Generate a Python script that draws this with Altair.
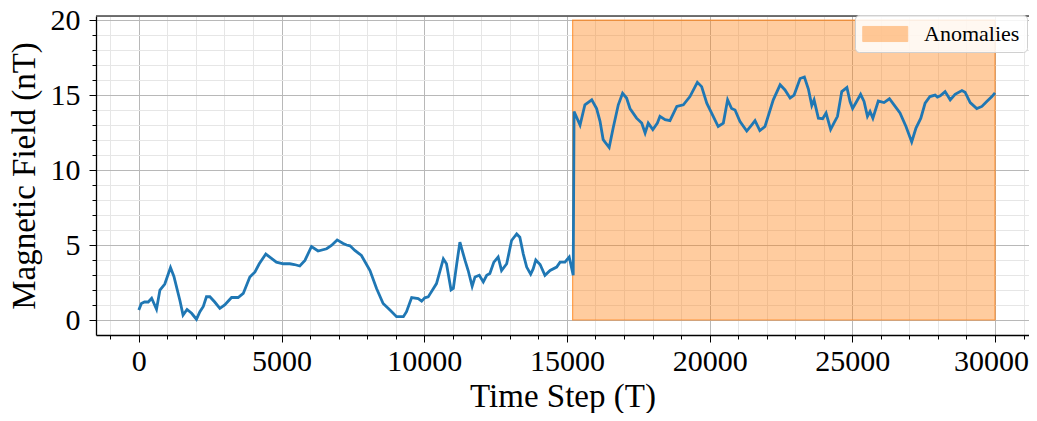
import altair as alt
import pandas as pd

# ---- data ----
time_steps = [0, 90, 200, 330, 450, 620, 740, 910, 1110, 1230, 1440, 1550, 1690, 1850, 2020,
              2140, 2260, 2370, 2490, 2660, 2840, 3010, 3250, 3480, 3660, 3890, 4070, 4220,
              4450, 4590, 4820, 5060, 5290, 5450, 5640, 5820, 6050, 6280, 6580, 6750, 6950,
              7160, 7280, 7400, 7570, 7800, 8100, 8330, 8560, 8800, 9030, 9270, 9380, 9560,
              9790, 9910, 10020, 10140, 10430, 10670, 10780, 10940, 11020, 11140, 11250,
              11430, 11540, 11680, 11780, 11930, 12070, 12190, 12300, 12440, 12590, 12710,
              12890, 13060, 13240, 13350, 13470, 13590, 13730, 13820, 13910, 14060, 14230,
              14410, 14640, 14760, 14930, 15080, 15220, 15250, 15460, 15630, 15870, 16040,
              16160, 16270, 16480, 16620, 16800, 16950, 17090, 17210, 17440, 17620, 17740,
              17850, 18010, 18170, 18260, 18440, 18610, 18850, 19080, 19310, 19570, 19720,
              19900, 20070, 20300, 20480, 20630, 20770, 20890, 21060, 21300, 21470, 21590,
              21760, 21940, 22230, 22470, 22640, 22820, 22960, 23170, 23320, 23460, 23580,
              23660, 23810, 23960, 24080, 24240, 24340, 24480, 24630, 24810, 24920, 25010,
              25150, 25290, 25410, 25530, 25620, 25720, 25910, 26110, 26300, 26500, 26670,
              26880, 27080, 27230, 27400, 27550, 27720, 27900, 27980, 28080, 28250, 28430,
              28600, 28840, 28950, 29130, 29360, 29540, 29710, 29890, 30000]
field_nT = [0.66, 1.1, 1.2, 1.2, 1.45, 0.72, 2.0, 2.4, 3.5, 2.9, 1.3, 0.33, 0.7, 0.45, 0.05,
            0.55, 0.9, 1.55, 1.55, 1.2, 0.77, 1.0, 1.5, 1.5, 1.77, 2.87, 3.2, 3.75,
            4.4, 4.2, 3.86, 3.75, 3.75, 3.7, 3.6, 3.97, 4.9, 4.6, 4.75, 4.97, 5.34,
            5.1, 5.0, 4.95, 4.64, 4.3, 3.3, 2.1, 1.1, 0.66, 0.22, 0.22, 0.55, 1.5,
            1.43, 1.26, 1.48, 1.54, 2.43, 4.08, 3.75, 2.0, 2.1, 3.75, 5.19,
            3.97, 3.3, 2.25, 2.87, 2.98, 2.54, 2.98, 3.1, 3.86, 4.2, 3.3,
            3.75, 5.3, 5.74, 5.52, 4.41, 3.53, 3.05, 3.42, 4.0, 3.7, 2.98,
            3.3, 3.53, 3.86, 3.86, 4.2, 2.98, 13.9, 13.0, 14.35, 14.68, 14.1,
            13.25, 12.03, 11.5, 12.8, 14.35, 15.12, 14.8, 14.1, 13.46, 13.13, 12.47,
            13.13, 12.7, 13.13, 13.58, 13.36, 13.29, 14.24, 14.35, 14.9, 15.85, 15.56,
            14.46, 13.8, 12.9, 13.13, 14.68, 14.1, 14.0, 13.25, 12.6, 13.0, 13.29,
            12.63, 12.9, 14.68, 15.68, 15.34, 14.8, 15.0, 16.1, 16.2, 15.4, 14.3,
            14.68, 13.46, 13.42, 13.8, 12.7, 13.07, 13.58, 15.23, 15.5, 14.57, 14.1,
            14.57, 15.05, 14.57, 13.58, 13.9, 13.46, 14.6, 14.5, 14.75, 14.24, 13.8,
            12.9, 11.87, 12.8, 13.46, 14.46, 14.9, 15.0, 14.86, 14.95, 15.23, 14.68,
            15.05, 15.3, 15.19, 14.5, 14.1, 14.24, 14.57, 14.9, 15.15]

anomaly_label = ["Anomalies"]
anomaly_start = [15200]
anomaly_end = [30000]
anomaly_low = [0]
anomaly_high = [20]

x_ticks = list(range(-1000, 31001, 1000))
y_ticks = list(range(0, 21, 1))

FONT = "Liberation Serif"
ORANGE = "#ff7f0e"
BLUE = "#1f77b4"

line_df = pd.DataFrame({"t": time_steps, "v": field_nT})
rect_df = pd.DataFrame({"label": anomaly_label, "x0": anomaly_start, "x1": anomaly_end,
                        "y0": anomaly_low, "y1": anomaly_high})

x_scale = alt.Scale(domain=[-1500, 31190], nice=False, zero=False)
y_scale = alt.Scale(domain=[-1.0, 20.27], nice=False, zero=False)

grid_color_x = {"condition": {"test": "datum.value % 5000 === 0", "value": "#b8b8b8"}, "value": "#e6e6e6"}
grid_color_y = {"condition": {"test": "datum.value % 5 === 0", "value": "#b8b8b8"}, "value": "#e6e6e6"}
tick_size_x = {"condition": {"test": "datum.value % 5000 === 0", "value": 7}, "value": 4}
tick_size_y = {"condition": {"test": "datum.value % 5 === 0", "value": 7}, "value": 4}
label_shift_x = {"condition": {"test": "datum.value === 30000", "value": -4}, "value": 0}

x_axis = alt.Axis(
    values=x_ticks, title="Time Step (T)", format="d",
    labelExpr="datum.value % 5000 === 0 ? format(datum.value, 'd') : ''",
    grid=True, gridColor=grid_color_x, gridWidth=1,
    tickSize=tick_size_x, tickColor="black", tickWidth=1,
    domainColor="black", domainWidth=1.3,
    labelFont=FONT, labelFontSize=30, labelColor="black", labelPadding=4,
    labelOffset=label_shift_x,
    titleFont=FONT, titleFontSize=33, titleFontWeight="normal", titleColor="black",
    titlePadding=4, labelFlush=False, labelOverlap=False,
)
y_axis = alt.Axis(
    values=y_ticks, title="Magnetic Field (nT)",
    labelExpr="datum.value % 5 === 0 ? format(datum.value, 'd') : ''",
    grid=True, gridColor=grid_color_y, gridWidth=1,
    tickSize=tick_size_y, tickColor="black", tickWidth=1,
    domainColor="black", domainWidth=1.3,
    labelFont=FONT, labelFontSize=30, labelColor="black", labelPadding=9,
    titleFont=FONT, titleFontSize=33, titleFontWeight="normal", titleColor="black",
    titlePadding=9, labelFlush=False, labelOverlap=False,
)

rect = alt.Chart(rect_df).mark_rect(
    fillOpacity=0.4, stroke=ORANGE, strokeOpacity=0.7, strokeWidth=1.2
).encode(
    x=alt.X("x0:Q", scale=x_scale, axis=x_axis),
    x2="x1:Q",
    y=alt.Y("y0:Q", scale=y_scale, axis=y_axis),
    y2="y1:Q",
    color=alt.Color(
        "label:N",
        scale=alt.Scale(domain=anomaly_label, range=[ORANGE]),
        legend=alt.Legend(
            title=None, orient="none", legendX=759, legendY=-1,
            symbolType="M-1,-0.67H3V0.67H-1Z", symbolSize=506,
            symbolOpacity=0.4, symbolStrokeColor=ORANGE, symbolStrokeWidth=1,
            labelFont=FONT, labelFontSize=22, labelColor="black", labelOffset=38,
            padding=7, strokeColor="#d0d0d0", fillColor="rgba(255,255,255,0.85)",
            cornerRadius=4,
        ),
    ),
)

line = alt.Chart(line_df).mark_line(color=BLUE, strokeWidth=2.8).encode(
    x=alt.X("t:Q", scale=x_scale, axis=x_axis),
    y=alt.Y("v:Q", scale=y_scale, axis=y_axis),
)

top_spine = alt.Chart(pd.DataFrame({"a": [0]})).mark_rule(color="#444", strokeWidth=1.5).encode(
    y=alt.value(0)
)

chart = alt.layer(rect, line, top_spine).properties(
    width=933, height=319,
    autosize=alt.AutoSizeParams(type="none"),
    padding={"left": 88, "top": 8, "right": 0, "bottom": 78},
).configure_view(strokeWidth=0).configure(background="white")

chart.save("out.html", embed_options={"renderer": "svg", "actions": False})
